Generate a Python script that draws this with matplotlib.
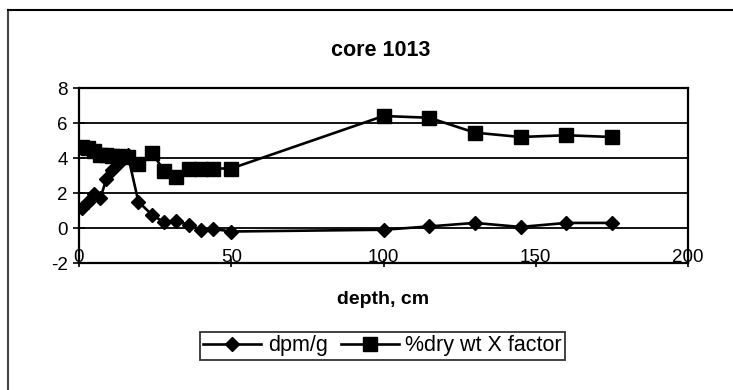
import matplotlib
matplotlib.use("Agg")
import matplotlib.pyplot as plt
from matplotlib.lines import Line2D

plt.rcParams['font.family'] = ['Liberation Sans', 'DejaVu Sans']

depth = [1, 3, 5, 7, 9, 11, 13, 16, 19.5, 24, 28, 32, 36, 40, 44, 50,
         100, 115, 130, 145, 160, 175]
dpm_g = [1.14, 1.5, 1.95, 1.7, 2.8, 3.3, 3.7, 4.2, 1.5, 0.75, 0.32, 0.38, 0.19, -0.1, -0.05, -0.2,
         -0.1, 0.09, 0.29, 0.06, 0.29, 0.29]
dry_wt = [4.65, 4.6, 4.4, 4.15, 4.15, 4.1, 4.1, 4.05, 3.65, 4.3, 3.25, 2.9, 3.4, 3.35, 3.4, 3.4,
          6.4, 6.3, 5.45, 5.2, 5.3, 5.2]
xticks = [0, 50, 100, 150, 200]
yticks = [-2, 0, 2, 4, 6, 8]

W, H = 733, 390
fig = plt.figure(figsize=(W / 100, H / 100), dpi=100)
ax = fig.add_axes([79 / W, 1 - 263 / H, (688 - 79) / W, (263 - 88) / H])

for y in yticks:
    ax.axhline(y, color='black', lw=1.3, zorder=1)

ax.plot(depth, dpm_g, color='black', lw=1.9, marker='D', markersize=7.5,
        label='dpm/g', zorder=3)
ax.plot(depth, dry_wt, color='black', lw=1.9, marker='s', markersize=10.5,
        label='%dry wt X factor', zorder=3)

ax.set_xlim(0, 200)
ax.set_ylim(-2, 8)
ax.set_xticks(xticks)
ax.set_yticks(yticks)
ax.set_xticklabels([str(v) for v in xticks], fontsize=13.5)
ax.set_yticklabels([str(v) for v in yticks], fontsize=13.5)
ax.tick_params(axis='x', direction='inout', length=6, width=1.2, pad=-7)
ax.tick_params(axis='y', direction='inout', length=8, width=1.2, pad=4)
for lbl in ax.get_xticklabels():
    lbl.set_verticalalignment('center')
for s in ax.spines.values():
    s.set_linewidth(1.6)
    s.set_color('black')

fig.text(381 / W, 1 - 50 / H, 'core 1013', ha='center', va='center',
         fontsize=15.5, fontweight='bold')
fig.text(383 / W, 1 - 300 / H, 'depth, cm', ha='center', va='center',
         fontsize=14, fontweight='bold')

leg = fig.legend(loc='center', bbox_to_anchor=(382.5 / W, 1 - 346 / H), ncol=2,
                 fontsize=15.5, frameon=True, fancybox=False, edgecolor='black',
                 handlelength=2.7, columnspacing=0.6, handletextpad=0.3,
                 borderpad=0.15, borderaxespad=0)
leg.get_frame().set_linewidth(1.3)

fig.add_artist(Line2D([8 / W, 8 / W], [0, 1 - 10 / H], color='#444444', lw=1.5))
fig.add_artist(Line2D([8 / W, 1], [1 - 10 / H, 1 - 10 / H], color='black', lw=1.5))

fig.savefig('out.png', dpi=100)
